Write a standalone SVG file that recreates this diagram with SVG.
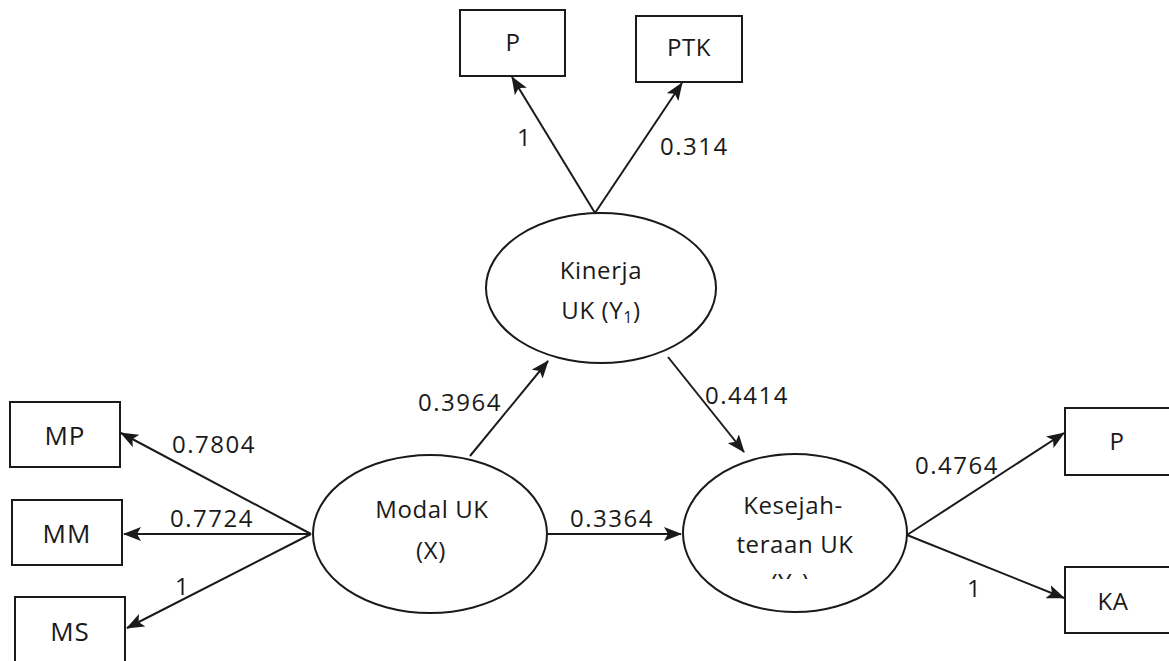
<svg xmlns="http://www.w3.org/2000/svg" width="1169" height="661" viewBox="0 0 1169 661">
<style>
.box{fill:#fff;stroke:#1a1a1a;stroke-width:2}
.ell{fill:#fff;stroke:#1a1a1a;stroke-width:2}
.t{font-family:"Open Sans","Liberation Sans",sans-serif;font-size:24px;letter-spacing:0.6px;fill:#1a1a1a;text-anchor:middle}
.tb{font-family:"Open Sans","Liberation Sans",sans-serif;font-size:26px;letter-spacing:1px;fill:#1a1a1a;text-anchor:middle}
.lbl{font-family:"Open Sans","Liberation Sans",sans-serif;font-size:24px;letter-spacing:1.5px;fill:#1a1a1a}
.c{stroke:#1a1a1a;stroke-width:2;fill:none;marker-end:url(#ah)}
</style>
<defs>
<marker id="ah" markerUnits="userSpaceOnUse" markerWidth="18" markerHeight="14" refX="17" refY="7" orient="auto">
<path d="M0,0 L18,7 L0,14 L4,7 Z" fill="#1a1a1a"/>
</marker>
<clipPath id="clipY2"><rect x="700" y="540" width="200" height="39"/></clipPath>
</defs>
<rect width="1169" height="661" fill="#fff"/>
<g id="connectors">
<line class="c" x1="595" y1="213" x2="512" y2="77"/>
<line class="c" x1="595" y1="213" x2="682" y2="83"/>
<line class="c" x1="470" y1="456" x2="548" y2="361"/>
<line class="c" x1="668" y1="357" x2="744" y2="452"/>
<line class="c" x1="547" y1="534" x2="681" y2="534"/>
<line class="c" x1="311" y1="534" x2="121" y2="433"/>
<line class="c" x1="311" y1="534" x2="124" y2="534"/>
<line class="c" x1="311" y1="534" x2="127" y2="628"/>
<line class="c" x1="907" y1="535" x2="1064" y2="433"/>
<line class="c" x1="907" y1="535" x2="1064" y2="598"/>
<text class="lbl" x="517" y="146">1</text>
<text class="lbl" x="660" y="155">0.314</text>
<text class="lbl" x="418" y="411">0.3964</text>
<text class="lbl" x="705" y="404">0.4414</text>
<text class="lbl" x="172" y="453">0.7804</text>
<text class="lbl" x="170" y="527">0.7724</text>
<text class="lbl" x="175" y="595">1</text>
<text class="lbl" x="570" y="527">0.3364</text>
<text class="lbl" x="915" y="474">0.4764</text>
<text class="lbl" x="967" y="597">1</text>
</g>
<g id="node-P-top"><rect class="box" x="460" y="10" width="105" height="66"/><text class="t" x="513" y="51">P</text></g>
<g id="node-PTK"><rect class="box" x="636" y="16" width="106" height="66"/><text class="t" x="689" y="56">PTK</text></g>
<g id="node-Kinerja"><ellipse class="ell" cx="601" cy="288" rx="115" ry="75"/><text class="t" x="601" y="279">Kinerja</text><text class="t" x="601" y="319">UK (Y<tspan font-size="16" dy="4">1</tspan><tspan dy="-4">)</tspan></text></g>
<g id="node-MP"><rect class="box" x="10" y="402" width="110" height="65"/><text class="tb" x="65" y="445">MP</text></g>
<g id="node-MM"><rect class="box" x="12" y="500" width="110" height="65"/><text class="tb" x="67" y="543">MM</text></g>
<g id="node-MS"><rect class="box" x="15" y="597" width="110" height="70"/><text class="tb" x="70" y="641">MS</text></g>
<g id="node-Modal"><ellipse class="ell" cx="430" cy="534" rx="117" ry="79"/><text class="t" x="432" y="518">Modal UK</text><text class="t" x="431" y="559">(X)</text></g>
<g id="node-Kesej"><ellipse class="ell" cx="795" cy="533" rx="112" ry="79"/><text class="t" x="793" y="514">Kesejah-</text><text class="t" x="795" y="553">teraan UK</text><text class="t" x="790" y="591" clip-path="url(#clipY2)">(Y<tspan font-size="16" dy="4">2</tspan><tspan dy="-4">)</tspan></text></g>
<g id="node-P-right"><rect class="box" x="1065" y="408" width="110" height="67"/><text class="t" x="1117" y="450">P</text></g>
<g id="node-KA"><rect class="box" x="1065" y="567" width="110" height="66"/><text class="t" x="1113" y="610">KA</text></g>
</svg>
